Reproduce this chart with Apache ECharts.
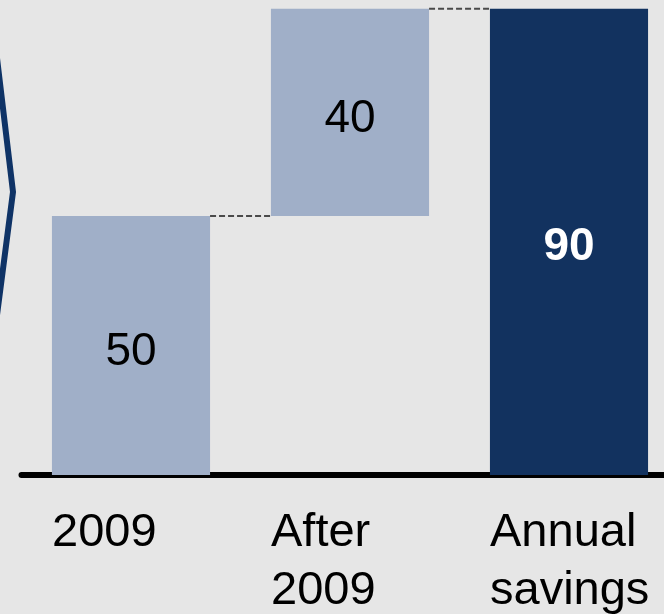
<!DOCTYPE html>
<html>
<head>
<meta charset="utf-8">
<script src="https://cdn.jsdelivr.net/npm/echarts@6/dist/echarts.min.js"></script>
<style>
  html, body { margin: 0; padding: 0; background: #e6e6e6; }
  #chart { width: 664px; height: 614px; }
</style>
</head>
<body>
<div id="chart"></div>
<script>
// Savings waterfall: two contributions building up to the annual total
const categories = ['2009', 'After\n2009', 'Annual\nsavings'];
const values = [50, 40, 90];
const isTotal = [false, false, true];

// invisible offsets that lift each step bar onto the running total
const offsets = [];
let running = 0;
values.forEach((v, i) => {
  offsets.push(isTotal[i] ? 0 : running);
  if (!isTotal[i]) running += v;
});

// dashed connectors: from the top of one bar to the next bar
const connectors = [];
for (let i = 0; i < values.length - 1; i++) {
  connectors.push([i, offsets[i] + values[i]]);
}

const STEP_COLOR = '#a0afc8';
const TOTAL_COLOR = '#12325f';
const BAR_RATIO = 0.722;
const BAR_PX = 158;
const FONT = '"Liberation Sans", Arial, sans-serif';

const chart = echarts.init(document.getElementById('chart'), null, { renderer: 'canvas' });

chart.setOption({
  backgroundColor: '#e6e6e6',
  animation: false,
  grid: {
    left: 21.5, right: -14.5, top: 8.8, bottom: 139,
    containLabel: false, outerBoundsMode: 'none'
  },
  xAxis: {
    type: 'category',
    data: categories,
    offset: 3,
    axisTick: { show: false },
    axisLine: { lineStyle: { color: '#000', width: 6, cap: 'round' } },
    axisLabel: {
      interval: 0,
      margin: 26,
      // each line sits flush with the left edge of its bar
      formatter: v => v.split('\n').map(s => '{a|' + s + '}').join('\n'),
      rich: {
        a: {
          width: BAR_PX, align: 'left', color: '#000',
          fontFamily: FONT, fontSize: 47, lineHeight: 58
        }
      }
    }
  },
  yAxis: {
    type: 'value', min: 0, max: 90,
    show: false, splitLine: { show: false }
  },
  graphic: [{
    type: 'polyline',
    shape: { points: [[-12, -17], [13, 192], [-13, 392]] },
    style: { stroke: '#0f3366', lineWidth: 6, fill: null, lineJoin: 'miter' },
    silent: true
  }],
  series: [
    {
      type: 'bar', stack: 'w', data: offsets,
      barWidth: (BAR_RATIO * 100) + '%',
      itemStyle: { color: 'transparent' }, silent: true
    },
    {
      type: 'bar', stack: 'w',
      barWidth: (BAR_RATIO * 100) + '%',
      data: values.map((v, i) => ({
        value: v,
        itemStyle: { color: isTotal[i] ? TOTAL_COLOR : STEP_COLOR },
        label: isTotal[i]
          ? { color: '#fff', fontWeight: 'bold', offset: [0, 5] }
          : { color: '#000', fontWeight: 'normal', offset: [0, 7] }
      })),
      label: {
        show: true, position: 'inside', fontFamily: FONT, fontSize: 46
      }
    },
    {
      type: 'custom',
      data: connectors,
      silent: true,
      z: 5,
      renderItem: function (params, api) {
        const idx = api.value(0);
        const level = api.value(1);
        const a = api.coord([idx, level]);
        const b = api.coord([idx + 1, level]);
        const half = api.size([1, 0])[0] * BAR_RATIO / 2;
        return {
          type: 'line',
          shape: { x1: a[0] + half, y1: a[1], x2: b[0] - half, y2: b[1] },
          style: { stroke: '#4a4a4a', lineWidth: 2, lineDash: [6, 3] }
        };
      }
    }
  ]
});
</script>
</body>
</html>
